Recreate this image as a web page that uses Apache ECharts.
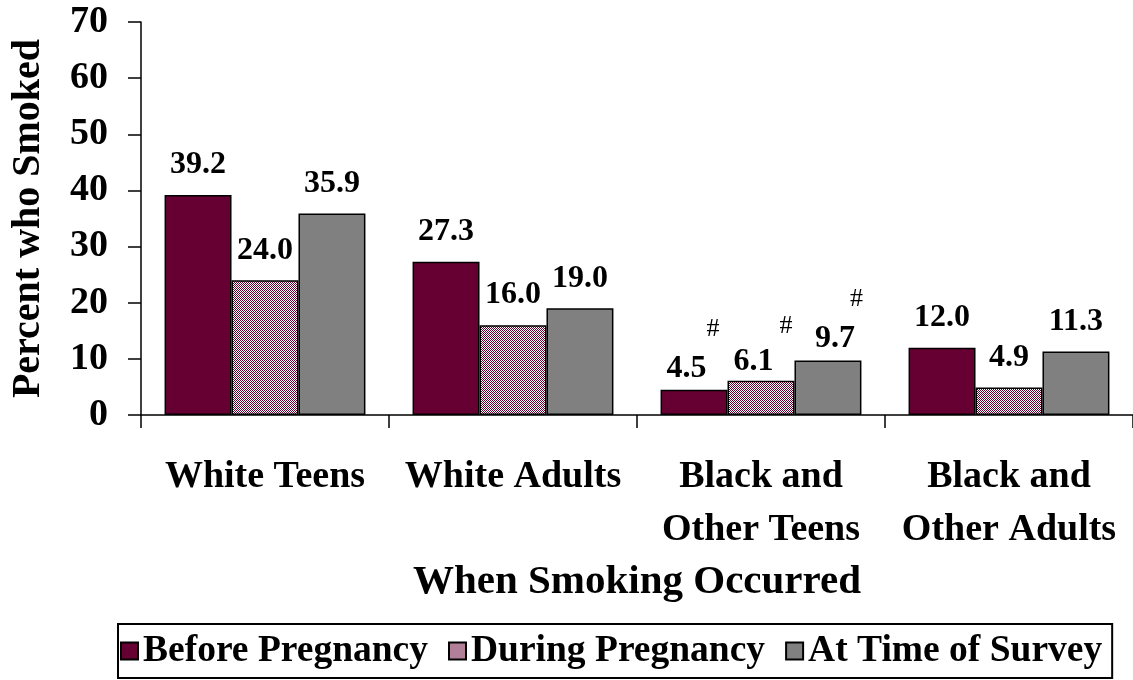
<!DOCTYPE html>
<html><head><meta charset="utf-8">
<script src="https://cdn.jsdelivr.net/npm/echarts@6/dist/echarts.min.js"></script>
<style>html,body{margin:0;padding:0;background:#fff}#c{width:1133px;height:680px}</style>
</head><body><div id="c"></div>
<script>
// ---- data ----
const categories = ['White Teens', 'White Adults', 'Black and\nOther Teens', 'Black and\nOther Adults'];
const seriesNames = ['Before Pregnancy', 'During Pregnancy', 'At Time of Survey'];
const beforePregnancy = [39.2, 27.3, 4.5, 12.0];
const duringPregnancy = [24.0, 16.0, 6.1, 4.9];
const atTimeOfSurvey = [35.9, 19.0, 9.7, 11.3];
const beforeNotes = ['', '', '#', ''];
const duringNotes = ['', '', '#', ''];
const surveyNotes = ['', '', '#', ''];
const yAxisTitle = 'Percent who Smoked';
const xAxisTitle = 'When Smoking Occurred';

// ---- styles (label nudges for the footnoted group, as in the reference) ----
// [dx, dy, spacerWidth, noteLineHeight]
const noteLabelAdjust = [
  [null, null, [-1, 10, 13, 46], null],
  [null, null, [2, 12, 19, 38], null],
  [null, null, [11, 9, 8, 44], null]
];
const FONT = '"Liberation Serif", "Times New Roman", serif';
const MAROON = '#660033';

const cv = document.createElement('canvas');
cv.width = 2; cv.height = 2;
const cx = cv.getContext('2d');
cx.fillStyle = '#ffffff'; cx.fillRect(0, 0, 2, 2);
cx.fillStyle = MAROON; cx.fillRect(0, 0, 1, 1); cx.fillRect(1, 1, 1, 1);
const checker = { image: cv, repeat: 'repeat' };

const colors = [MAROON, checker, '#808080'];
const values = [beforePregnancy, duringPregnancy, atTimeOfSurvey];
const notes = [beforeNotes, duringNotes, surveyNotes];

function buildData(si) {
  return values[si].map((v, ci) => {
    const note = notes[si][ci];
    const adj = noteLabelAdjust[si][ci];
    if (!note) return { value: v };
    return {
      value: v,
      label: {
        offset: [adj[0], adj[1]],
        formatter: '{n|' + note + '}\n{v|' + v.toFixed(1) + '}{s| }',
        rich: {
          n: { fontFamily: FONT, fontSize: 26, fontWeight: 'normal', color: '#000', align: 'right', lineHeight: adj[3] },
          v: { fontFamily: FONT, fontSize: 32, fontWeight: 'bold', color: '#000', lineHeight: 34 },
          s: { width: adj[2], fontSize: 10 }
        }
      }
    };
  });
}

const chart = echarts.init(document.getElementById('c'), null, { renderer: 'canvas' });
chart.setOption({
  animation: false,
  backgroundColor: '#ffffff',
  grid: { left: 141, right: 0, top: 22, bottom: 265, containLabel: false },
  legend: {
    data: seriesNames,
    left: 118, bottom: 2,
    orient: 'horizontal',
    borderColor: '#000', borderWidth: 2,
    padding: [8, 10, 8, 2],
    itemWidth: 17, itemHeight: 17, itemGap: 20,
    icon: 'rect',
    textStyle: { fontFamily: FONT, fontSize: 37.5, fontWeight: 'bold', color: '#000' }
  },
  xAxis: {
    type: 'category',
    data: categories,
    name: xAxisTitle,
    nameLocation: 'middle',
    nameGap: 143,
    nameTextStyle: { fontFamily: FONT, fontSize: 41, fontWeight: 'bold', color: '#000' },
    axisLine: { lineStyle: { color: '#000', width: 1.5 } },
    axisTick: { show: true, length: 13, lineStyle: { color: '#000', width: 1.5 } },
    axisLabel: { fontFamily: FONT, fontSize: 38, fontWeight: 'bold', color: '#000', lineHeight: 53, margin: 36, interval: 0 }
  },
  yAxis: {
    type: 'value',
    min: 0, max: 70, interval: 10,
    name: yAxisTitle,
    nameLocation: 'middle',
    nameGap: 92,
    nameTextStyle: { fontFamily: FONT, fontSize: 40, fontWeight: 'bold', color: '#000' },
    splitLine: { show: false },
    axisLine: { show: true, lineStyle: { color: '#000', width: 1.5 } },
    axisTick: { show: true, length: 13, lineStyle: { color: '#000', width: 1.5 } },
    axisLabel: { fontFamily: FONT, fontSize: 38, fontWeight: 'bold', color: '#000', margin: 33 }
  },
  series: seriesNames.map((name, si) => ({
    name: name,
    type: 'bar',
    barGap: '0%',
    barCategoryGap: '19%',
    itemStyle: { color: colors[si], borderColor: '#000', borderWidth: 1.5 },
    label: {
      show: true, position: 'top', distance: 14,
      fontFamily: FONT, fontSize: 32, fontWeight: 'bold', color: '#000',
      formatter: p => Number(p.value).toFixed(1)
    },
    data: buildData(si)
  }))
});
</script>
</body></html>
